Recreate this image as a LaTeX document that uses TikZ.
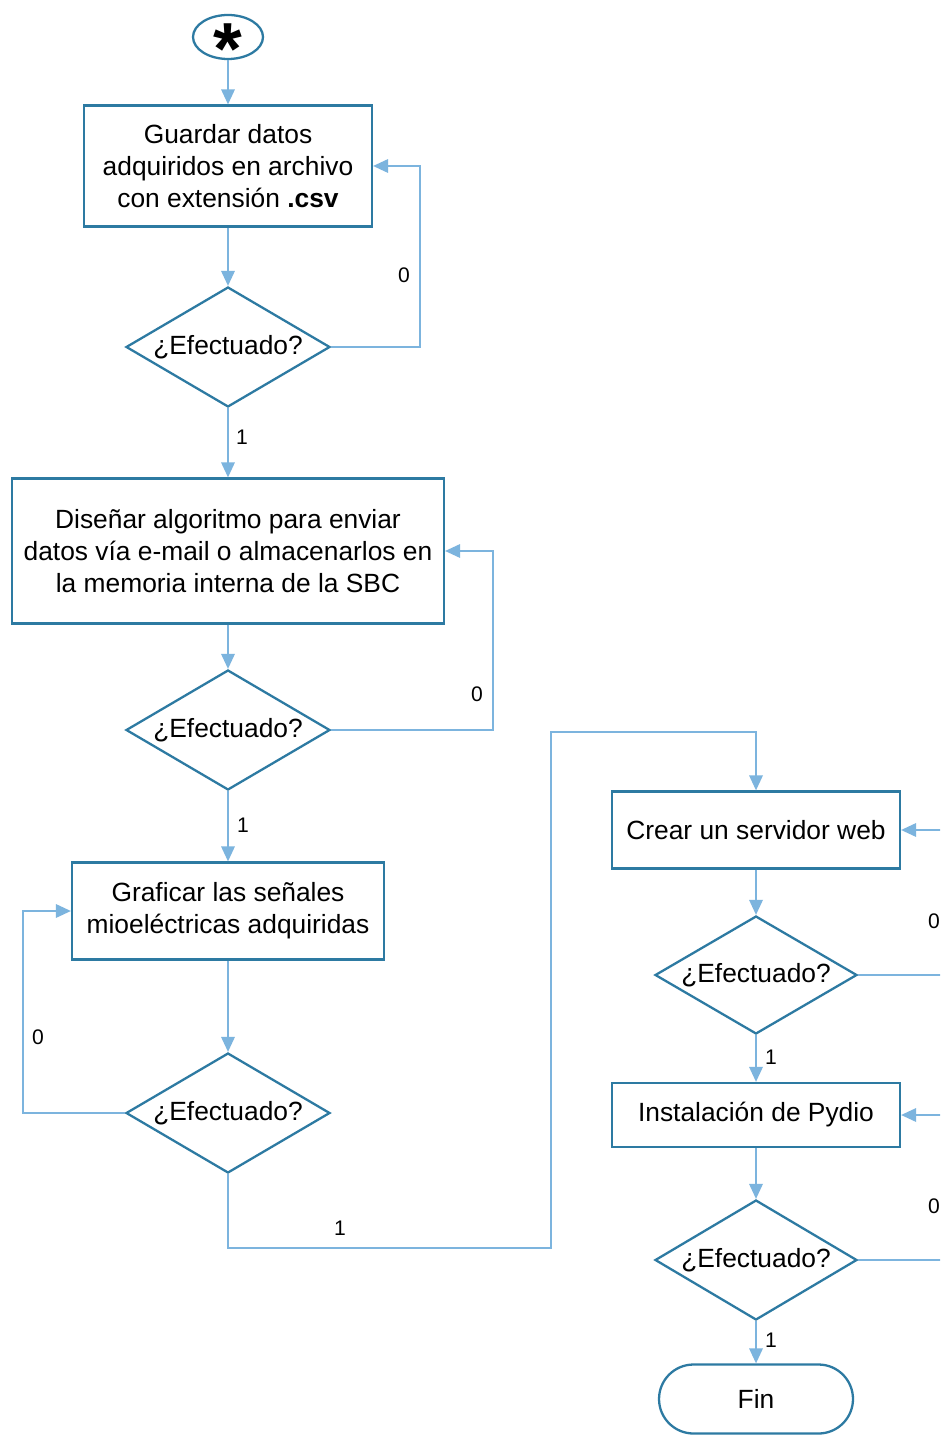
\documentclass[tikz,border=0pt]{standalone}
\usepackage{fontspec}
\setmainfont{Liberation Sans}
\usetikzlibrary{shapes.geometric,shapes.misc,arrows.meta}
\definecolor{nodeblue}{RGB}{45,122,162}
\definecolor{linkblue}{RGB}{124,180,222}
\tikzset{
  base/.style={draw=nodeblue, line width=1.3pt, fill=white, align=center, inner sep=0pt, font=\fontsize{15}{18.2}\selectfont},
  procbox/.style={base, rectangle},
  decbox/.style={base, diamond, shape aspect=1.7, minimum width=4.08cm, minimum height=2.4cm},
  conn/.style={draw=linkblue, line width=1pt, -{Triangle[length=0.3cm,width=0.27cm]}},
  lbl/.style={font=\fontsize{12}{14}\selectfont, inner sep=0pt}
}
\begin{document}
\begin{tikzpicture}[x=0.02cm,y=-0.02cm]
\useasboundingbox (0,0) rectangle (940,1435);
\clip (0,0) rectangle (940,1435);
\fill[white] (0,0) rectangle (940,1435);

% nodes
\node[base, ellipse, minimum width=1.4cm, minimum height=0.88cm] (start) at (228,37) {};
\node[font=\fontsize{42}{42}\bfseries\selectfont, inner sep=0pt] (ast) at (228,49) {*};
\node[procbox, minimum width=5.76cm, minimum height=2.42cm] (b1) at (228,166) {Guardar datos\\adquiridos en archivo\\con extensión \textbf{.csv}};
\node[decbox] (d1) at (228,347) {¿Efectuado?};
\node[procbox, minimum width=8.64cm, minimum height=2.9cm] (b2) at (228,551) {Diseñar algoritmo para enviar\\datos vía e-mail o almacenarlos en\\la memoria interna de la SBC};
\node[decbox] (d2) at (228,730) {¿Efectuado?};
\node[procbox, minimum width=6.24cm, minimum height=1.94cm] (b3) at (228,911) {Graficar las señales\\mioeléctricas adquiridas};
\node[decbox] (d3) at (228,1113) {¿Efectuado?};
\node[procbox, minimum width=5.76cm, minimum height=1.54cm] (b4) at (756,830) {Crear un servidor web};
\node[decbox, minimum width=4.04cm, minimum height=2.36cm] (d4) at (756,975) {¿Efectuado?};
\node[procbox, minimum width=5.76cm, minimum height=1.28cm] (b5) at (756,1115) {Instalación de Pydio};
\node[decbox, minimum width=4.04cm, minimum height=2.4cm] (d5) at (756,1260) {¿Efectuado?};
\node[base, rounded rectangle, minimum width=3.88cm, minimum height=1.38cm] (fin) at (756,1399) {Fin};

% helper coordinates
\coordinate (x1) at (420,0);
\coordinate (x2) at (493,0);
\coordinate (x3) at (23,0);
\coordinate (j1) at (551,1248);
\coordinate (j2) at (551,732);
\coordinate (xr) at (970,0);

% connectors
\draw[conn] (start) -- (b1);
\draw[conn] (b1) -- (d1);
\draw[conn] (d1.east) -- (d1.east -| x1) -- (b1.east -| x1) -- (b1.east);
\draw[conn] (d1) -- (b2);
\draw[conn] (b2) -- (d2);
\draw[conn] (d2.east) -- (d2.east -| x2) -- (b2.east -| x2) -- (b2.east);
\draw[conn] (d2) -- (b3);
\draw[conn] (b3) -- (d3);
\draw[conn] (d3.west) -- (d3.west -| x3) -- (b3.west -| x3) -- (b3.west);
\draw[conn] (d3.south) -- (d3.south |- j1) -- (j1) -- (j2) -| (b4.north);
\draw[conn] (b4) -- (d4);
\draw[conn] (d4.east) -- (d4.east -| xr) -- (b4.east -| xr) -- (b4.east);
\draw[conn] (d4) -- (b5);
\draw[conn] (b5) -- (d5);
\draw[conn] (d5.east) -- (d5.east -| xr) -- (b5.east -| xr) -- (b5.east);
\draw[conn] (d5) -- (fin);

% labels
\node[lbl] (l1) at (404,275) {0};
\node[lbl] (l2) at (242,437) {1};
\node[lbl] (l3) at (477,694) {0};
\node[lbl] (l4) at (243,825) {1};
\node[lbl] (l5) at (38,1037) {0};
\node[lbl] (l6) at (340,1228) {1};
\node[lbl] (l7) at (934,921) {0};
\node[lbl] (l8) at (771,1057) {1};
\node[lbl] (l9) at (934,1206) {0};
\node[lbl] (l10) at (771,1340) {1};
\end{tikzpicture}
\end{document}
